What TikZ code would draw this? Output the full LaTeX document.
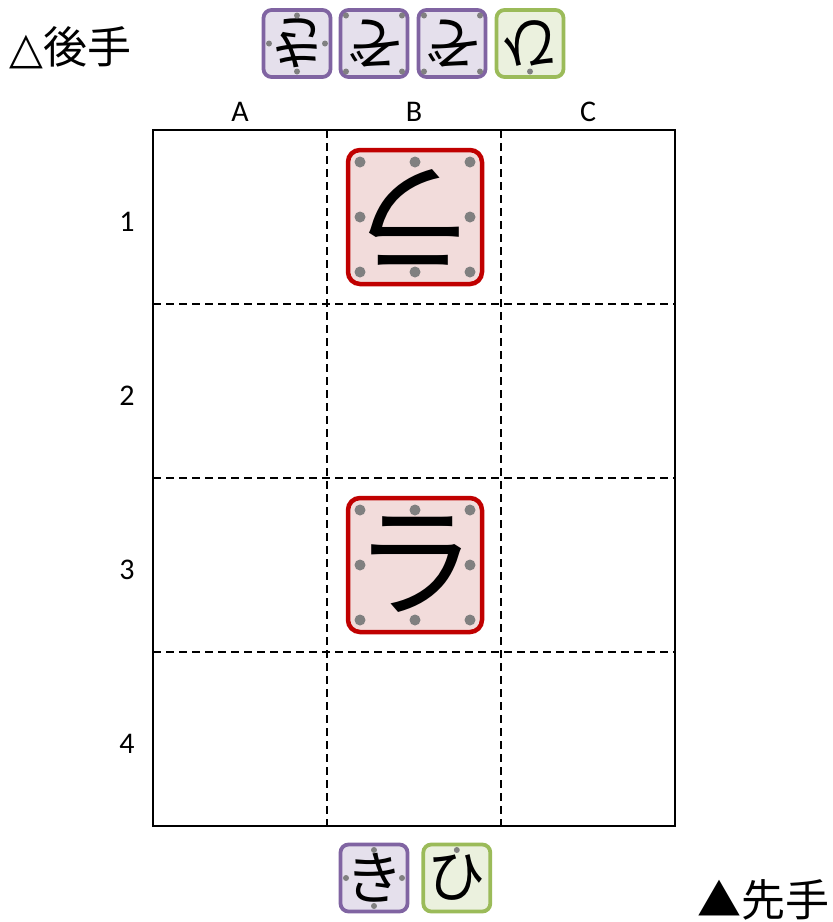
\documentclass[tikz,border=0pt]{standalone}
\usepackage{fontspec}
\setmainfont{Carlito}
\newfontfamily\jp{Noto Sans CJK JP}
\newfontfamily\sym{DejaVu Sans}
\usetikzlibrary{positioning,calc}
\definecolor{lionline}{HTML}{C00000}
\definecolor{lionback}{HTML}{F2DCDB}
\definecolor{purpline}{HTML}{8064A2}
\definecolor{purpback}{HTML}{E5E0EC}
\definecolor{greenline}{HTML}{9BBB59}
\definecolor{greenback}{HTML}{EBF1DE}
\definecolor{spotgray}{HTML}{808080}

% spots on a piece: node, offset, list of directions
\newcommand{\spots}[4]{%
  \foreach \u/\v in {#3} \fill[spotgray] ($(#1)+(\u*#2,\v*#2)$) circle (#4);}

\begin{document}
\begin{tikzpicture}[x=1pt, y=-1pt,
  bigpc/.style={draw=lionline, fill=lionback, line width=4.5pt, rounded corners=12pt,
    minimum size=134pt, inner sep=0pt, font=\jp\fontsize{122}{122}\selectfont},
  smallpc/.style={line width=3.8pt, rounded corners=8pt, minimum size=67pt,
    inner sep=0pt, font=\jp\fontsize{58}{58}\selectfont},
  purppc/.style={smallpc, draw=purpline, fill=purpback},
  greenpc/.style={smallpc, draw=greenline, fill=greenback},
  lbl/.style={font=\fontsize{30}{30}\selectfont},
  cell/.style={dashed, dash pattern=on 8pt off 5pt, line width=1.8pt}
]
  \useasboundingbox (0,0) rectangle (833,922);

  % board
  \draw[cell] (327,130) -- (327,826) (501,130) -- (501,826);
  \foreach \y in {304,478,652} \draw[cell] (153,\y) -- (675,\y);
  \draw[line width=2.4pt] (153,130) rectangle (675,826);

  \node[lbl] (colA) at (240,112) {A};
  \node[lbl] (colB) at (414,112) {B};
  \node[lbl] (colC) at (588,112) {C};
  \node[lbl] (row1) at (127,222) {1};
  \node[lbl] (row2) at (127,396) {2};
  \node[lbl] (row3) at (127,570) {3};
  \node[lbl] (row4) at (127,744) {4};

  % lions
  \node[bigpc, rotate=180] (gote lion) at (415,217) {ラ};
  \node[bigpc] (sente lion) at (415,565) {ラ};
  \spots{gote lion}{55}{-1/-1,0/-1,1/-1,-1/0,1/0,-1/1,0/1,1/1}{5.5pt}
  \spots{sente lion}{55}{-1/-1,0/-1,1/-1,-1/0,1/0,-1/1,0/1,1/1}{5.5pt}

  % gote hand
  \node[anchor=base west, font=\jp\fontsize{44}{44}\selectfont, inner sep=0pt] (gote)
    at (9,63) {{\sym\fontsize{44}{44}\selectfont △}後手};
  \node[purppc, rotate=180] (gote kirin) at (297,43.5) {き};
  \node[purppc, rotate=180] (gote zou1) at (374,43.5) {ぞ};
  \node[purppc, rotate=180] (gote zou2) at (452,43.5) {ぞ};
  \node[greenpc, rotate=180] (gote hiyoko) at (530,43.5) {ひ};
  \spots{gote kirin}{28}{0/-1,-1/0,1/0,0/1}{3pt}
  \spots{gote zou1}{28}{-1/-1,1/-1,-1/1,1/1}{3pt}
  \spots{gote zou2}{28}{-1/-1,1/-1,-1/1,1/1}{3pt}
  \spots{gote hiyoko}{28}{0/1}{3pt}

  % sente hand
  \node[purppc] (sente kirin) at (374,878) {き};
  \node[greenpc, right=12pt of sente kirin] (sente hiyoko) {ひ};
  \spots{sente kirin}{28}{0/-1,-1/0,1/0,0/1}{3pt}
  \spots{sente hiyoko}{28}{0/-1}{3pt}
  \node[anchor=base east, font=\jp\fontsize{44}{44}\selectfont, inner sep=0pt] (sente)
    at (830,916) {▲先手};
\end{tikzpicture}
\end{document}
